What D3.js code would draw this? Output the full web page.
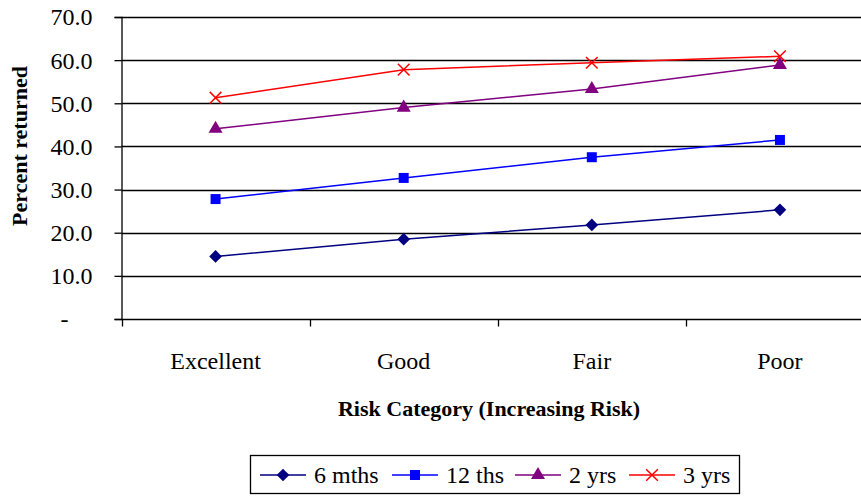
<!DOCTYPE html>
<html>
<head>
<meta charset="utf-8">
<script src="https://cdn.jsdelivr.net/npm/d3@7"></script>
<style>
  body { margin: 0; background: #fff; }
  svg text { font-family: "Liberation Serif", "Times New Roman", serif; fill: #000; }
</style>
</head>
<body>
<div id="chart"></div>
<script>
// data
const categories = ["Excellent", "Good", "Fair", "Poor"];
const seriesNames = ["6 mths", "12 ths", "2 yrs", "3 yrs"];
const sixMonths = [14.5, 18.5, 21.8, 25.3];
const twelveMonths = [27.8, 32.7, 37.5, 41.5];
const twoYears = [44.1, 49.0, 53.3, 58.9];
const threeYears = [51.3, 57.8, 59.4, 60.9];
const yTicks = [0, 10, 20, 30, 40, 50, 60, 70];

const width = 861, height = 496;
const colors = ["#000080", "#0000ff", "#800080", "#ff0000"];
// marker: symbol type, size, rotation
const markers = [
    { type: d3.symbolSquare, size: 80, rotate: 45 },
    { type: d3.symbolSquare, size: 100, rotate: 0 },
    { type: d3.symbolTriangle, size: 85, rotate: 0 },
    { type: d3.symbolX, size: 90, rotate: 0 }
];

const series = [sixMonths, twelveMonths, twoYears, threeYears].map((vals, i) => ({
    name: seriesNames[i],
    color: colors[i],
    marker: markers[i],
    values: vals.map((v, j) => ({ cat: categories[j], value: v }))
}));

const svg = d3.select("#chart").append("svg")
    .attr("width", width)
    .attr("height", height);

const x = d3.scaleBand()
    .domain(categories)
    .range([121.5, 874]);

const y = d3.scaleLinear()
    .domain([0, 70])
    .range([319, 17]);

// gridlines
svg.append("g")
    .selectAll("line")
    .data(yTicks.filter(d => d > 0))
    .enter()
    .append("line")
    .attr("x1", 121.5)
    .attr("x2", width)
    .attr("y1", d => Math.round(y(d)) + 0.5)
    .attr("y2", d => Math.round(y(d)) + 0.5)
    .attr("stroke", "#000")
    .attr("stroke-width", 1.3);

// y axis
const yAxis = svg.append("g")
    .attr("transform", "translate(121.5,0)")
    .call(d3.axisLeft(y).tickValues(yTicks).tickSize(7)
        .tickFormat(d => d === 0 ? "-" : d3.format(".1f")(d)));
yAxis.attr("font-family", null).attr("font-size", null);
yAxis.select(".domain").attr("stroke", "#000").attr("stroke-width", 1.3);
yAxis.selectAll(".tick line").attr("stroke-width", 1.3);
yAxis.selectAll("text")
    .style("font-size", "24px")
    .attr("x", -29)
    .attr("dy", "0.33em");
yAxis.selectAll(".tick")
    .filter(d => d === 0)
    .select("text")
    .attr("x", -57)
    .attr("text-anchor", "middle");

// x axis
const xAxisG = svg.append("g").attr("transform", "translate(0,319.5)");
xAxisG.append("line")
    .attr("x1", 121.5).attr("x2", width)
    .attr("stroke", "#000").attr("stroke-width", 1.3);
xAxisG.selectAll("line.tk")
    .data(categories)
    .enter()
    .append("line")
    .attr("class", "tk")
    .attr("x1", d => Math.round(x(d)) + 0.5)
    .attr("x2", d => Math.round(x(d)) + 0.5)
    .attr("y1", 0).attr("y2", 7)
    .attr("stroke", "#000").attr("stroke-width", 1.3);
xAxisG.selectAll("text")
    .data(categories)
    .enter()
    .append("text")
    .attr("x", d => x(d) + x.bandwidth() / 2)
    .attr("y", 49.5)
    .attr("text-anchor", "middle")
    .style("font-size", "24px")
    .text(d => d);

// axis titles
svg.append("text")
    .attr("x", 489)
    .attr("y", 416)
    .attr("text-anchor", "middle")
    .style("font-weight", "bold")
    .style("font-size", "22px")
    .text("Risk Category (Increasing Risk)");

svg.append("text")
    .attr("transform", "translate(27,146) rotate(-90)")
    .attr("text-anchor", "middle")
    .style("font-weight", "bold")
    .style("font-size", "22px")
    .text("Percent returned");

// lines and markers
const line = d3.line()
    .x(d => x(d.cat) + x.bandwidth() / 2)
    .y(d => y(d.value));

function drawMarker(sel, s) {
    const m = s.marker;
    const isX = m.type === d3.symbolX;
    sel.attr("d", d3.symbol().type(m.type).size(m.size))
        .attr("fill", isX ? "none" : s.color)
        .attr("stroke", isX ? s.color : "none")
        .attr("stroke-width", 1.5);
}

series.forEach(s => {
    const g = svg.append("g");
    g.append("path")
        .datum(s.values)
        .attr("d", line)
        .attr("fill", "none")
        .attr("stroke", s.color)
        .attr("stroke-width", 1.5);
    g.selectAll("path.pt")
        .data(s.values)
        .enter()
        .append("path")
        .attr("class", "pt")
        .attr("transform", d => `translate(${x(d.cat) + x.bandwidth() / 2},${y(d.value)}) rotate(${s.marker.rotate})`)
        .call(drawMarker, s);
});

// legend
const legend = svg.append("g");
legend.append("rect")
    .attr("x", 250.5).attr("y", 455.5)
    .attr("width", 489).attr("height", 38)
    .attr("fill", "#fff")
    .attr("stroke", "#000")
    .attr("stroke-width", 1.3);

const legendX = [260, 392, 515, 629];
series.forEach((s, i) => {
    const lg = legend.append("g").attr("transform", `translate(${legendX[i]},475)`);
    lg.append("line")
        .attr("x1", 0).attr("x2", 46)
        .attr("stroke", s.color).attr("stroke-width", 1.5);
    lg.append("path")
        .attr("transform", `translate(23,0) rotate(${s.marker.rotate})`)
        .call(drawMarker, s);
    lg.append("text")
        .attr("x", 54)
        .attr("y", 8)
        .style("font-size", "24px")
        .text(s.name);
});
</script>
</body>
</html>
